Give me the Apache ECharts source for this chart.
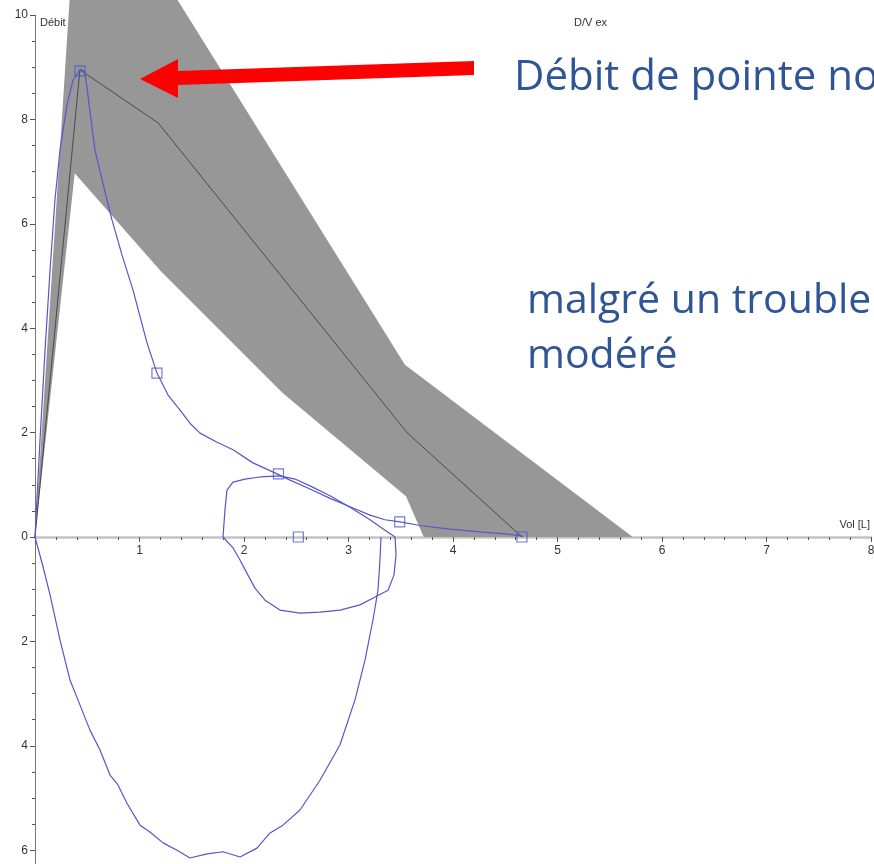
<!DOCTYPE html>
<html>
<head>
<meta charset="utf-8">
<title>Courbe débit-volume</title>
<script src="https://cdn.jsdelivr.net/npm/echarts@6/dist/echarts.min.js"></script>
<style>
  html, body { margin: 0; padding: 0; background: #fff; }
  #chart { width: 874px; height: 864px; }
</style>
</head>
<body>
<div id="chart"></div>
<script>
// Volume (L) / flow (L/s) pairs. Inspiratory flow is stored as negative values
// and shown below the volume axis with unsigned labels.

// Predicted reference band (upper limit, then lower limit back to the origin)
const bandUpper = [[0, 0], [0.36, 11.2], [1.08, 11.2], [3.54, 3.30], [5.72, 0]];
const bandLower = [[3.72, 0], [3.55, 0.78], [2.37, 2.76], [1.20, 5.10], [0.38, 6.97], [0, 0]];

// Predicted mean curve
const refMean = [[0, 0], [0.43, 8.95], [1.18, 7.93], [3.56, 2.00], [4.66, 0]];

// Forced expiration
const expiration = [
  [0, 0], [0.048, 1.86], [0.096, 3.58], [0.144, 5.11], [0.191, 6.46], [0.239, 7.41],
  [0.306, 8.28], [0.364, 8.75], [0.431, 8.96], [0.478, 8.91], [0.574, 7.41], [0.689, 6.46],
  [0.737, 6.07], [0.833, 5.40], [0.938, 4.73], [1.072, 3.72], [1.167, 3.14], [1.273, 2.72],
  [1.388, 2.43], [1.483, 2.18], [1.579, 1.99], [1.737, 1.82], [1.895, 1.67], [2.086, 1.42],
  [2.316, 1.21], [2.440, 1.09], [2.632, 0.92], [2.823, 0.74], [3.014, 0.58], [3.206, 0.42],
  [3.349, 0.33], [3.493, 0.29], [3.684, 0.22], [3.971, 0.15], [4.258, 0.10], [4.498, 0.06],
  [4.660, 0.02], [4.670, 0]
];

// Forced inspiration
const inspiration = [
  [0, 0], [0.077, -0.57], [0.144, -1.11], [0.239, -1.97], [0.335, -2.74], [0.411, -3.12],
  [0.526, -3.70], [0.622, -4.08], [0.718, -4.56], [0.794, -4.75], [0.880, -5.10], [1.005, -5.52],
  [1.100, -5.65], [1.225, -5.86], [1.359, -6.00], [1.483, -6.15], [1.646, -6.07], [1.799, -6.03],
  [1.962, -6.13], [2.124, -5.96], [2.249, -5.67], [2.373, -5.52], [2.536, -5.23], [2.727, -4.66],
  [2.919, -3.98], [3.062, -3.12], [3.158, -2.36], [3.234, -1.59], [3.282, -1.02], [3.301, -0.44],
  [3.311, 0]
];

// Tidal breathing loop
const tidal = [
  [1.799, 0], [1.818, 0.52], [1.837, 0.90], [1.895, 1.05], [2.010, 1.11], [2.153, 1.15],
  [2.344, 1.17], [2.488, 1.11], [2.632, 0.98], [2.823, 0.79], [3.014, 0.57], [3.206, 0.33],
  [3.349, 0.13], [3.445, 0], [3.455, -0.34], [3.435, -0.73], [3.378, -1.02], [3.254, -1.15],
  [3.110, -1.30], [2.919, -1.40], [2.727, -1.44], [2.536, -1.46], [2.344, -1.40], [2.201, -1.21],
  [2.105, -0.98], [2.038, -0.73], [1.962, -0.44], [1.895, -0.21], [1.799, 0]
];

// Measurement markers on the loops
const markers = [[0.43, 8.93], [1.167, 3.14], [2.33, 1.21], [2.52, 0], [3.49, 0.29], [4.66, 0]];

// Axis ranges: expiratory half above the volume axis, inspiratory half below
const volMin = 0, volMax = 8, volStep = 1;
const expFlowMin = 0, expFlowMax = 10;
const inspFlowMin = -8, inspFlowMax = 0;
const flowStep = 2;

const blue = '#5656cc';
const labelFont = 'Liberation Sans';
const PX_PER_FLOW = 52.2;

const flowAxisBase = {
  type: 'value',
  interval: flowStep,
  axisLine: { show: true, onZero: false, lineStyle: { color: '#777', width: 1 } },
  axisTick: { show: true, length: 5, lineStyle: { color: '#555' } },
  minorTick: { show: true, splitNumber: 4, length: 3, lineStyle: { color: '#555' } },
  splitLine: { show: false }
};

const chart = echarts.init(document.getElementById('chart'), null, { renderer: 'canvas' });

chart.setOption({
  backgroundColor: '#ffffff',
  animation: false,
  grid: [
    { left: 35, top: 15, width: 836, height: (expFlowMax - expFlowMin) * PX_PER_FLOW, outerBoundsMode: 'none' },
    { left: 35, top: 15 + (expFlowMax - expFlowMin) * PX_PER_FLOW, width: 836,
      height: (inspFlowMax - inspFlowMin) * PX_PER_FLOW, outerBoundsMode: 'none' }
  ],
  xAxis: [
    {
      gridIndex: 0, type: 'value', position: 'bottom',
      min: volMin, max: volMax, interval: volStep,
      axisLine: { onZero: false, lineStyle: { color: '#c4c4c4', width: 2.5 } },
      axisTick: { show: true, length: 5, lineStyle: { color: '#555' } },
      minorTick: { show: true, splitNumber: 5, length: 3, lineStyle: { color: '#555' } },
      axisLabel: { showMinLabel: false, margin: 8, color: '#333', fontSize: 12, fontFamily: labelFont },
      splitLine: { show: false }
    },
    {
      gridIndex: 1, type: 'value', show: false,
      min: volMin, max: volMax, interval: volStep
    }
  ],
  yAxis: [
    Object.assign({}, flowAxisBase, {
      gridIndex: 0, min: expFlowMin, max: expFlowMax,
      axisLabel: { margin: 7, color: '#333', fontSize: 12, fontFamily: labelFont }
    }),
    Object.assign({}, flowAxisBase, {
      gridIndex: 1, min: inspFlowMin, max: inspFlowMax,
      axisLabel: {
        margin: 7, color: '#333', fontSize: 12, fontFamily: labelFont, showMaxLabel: false,
        formatter: v => String(Math.abs(v))
      }
    })
  ],
  series: [
    {
      type: 'custom',
      name: 'band',
      clip: false,
      silent: true,
      z: 1,
      data: [[0, 0]],
      renderItem: (params, api) => ({
        type: 'polygon',
        shape: { points: bandUpper.concat(bandLower).map(p => api.coord(p)) },
        style: { fill: '#979797' }
      })
    },
    {
      type: 'line', name: 'mean', data: refMean, showSymbol: false, z: 2, clip: false,
      lineStyle: { color: '#4a4a4a', width: 1 }
    },
    {
      type: 'line', name: 'expiration', data: expiration, showSymbol: false, z: 3, clip: false,
      lineStyle: { color: blue, width: 1.2 }
    },
    {
      type: 'line', name: 'inspiration', data: inspiration, showSymbol: false, z: 3, clip: false,
      xAxisIndex: 1, yAxisIndex: 1,
      lineStyle: { color: blue, width: 1.2 }
    },
    {
      type: 'line', name: 'tidal', data: tidal, showSymbol: false, z: 3, clip: false,
      lineStyle: { color: blue, width: 1.2 }
    },
    {
      type: 'scatter', name: 'markers', data: markers, symbol: 'rect', symbolSize: 10, z: 4, clip: false,
      itemStyle: { color: 'rgba(0,0,0,0)', borderColor: blue, borderWidth: 1.2 }
    }
  ],
  graphic: [
    { type: 'text', left: 40, top: 17, style: { text: 'Débit', font: '11px "Liberation Sans"', fill: '#333' } },
    { type: 'text', left: 574, top: 17, style: { text: 'D/V ex', font: '11px "Liberation Sans"', fill: '#333' } },
    { type: 'text', right: 4, top: 519, style: { text: 'Vol [L]', font: '11px "Liberation Sans"', fill: '#333' } },
    {
      type: 'polygon', z: 10,
      shape: { points: [[474, 61], [178, 71], [178, 59], [140, 79], [178, 98], [178, 85], [474, 75]] },
      style: { fill: '#ff0000' }
    },
    {
      type: 'text', x: 514, y: 78, z: 10,
      style: { text: 'Débit de pointe normal', font: '42px "Open Sans"', fill: '#2f5597', verticalAlign: 'middle' }
    },
    {
      type: 'text', x: 527, y: 301, z: 10,
      style: { text: 'malgré un trouble', font: '41px "Open Sans"', fill: '#2f5597', verticalAlign: 'middle' }
    },
    {
      type: 'text', x: 527, y: 356, z: 10,
      style: { text: 'modéré', font: '41px "Open Sans"', fill: '#2f5597', verticalAlign: 'middle' }
    }
  ]
});
</script>
</body>
</html>
